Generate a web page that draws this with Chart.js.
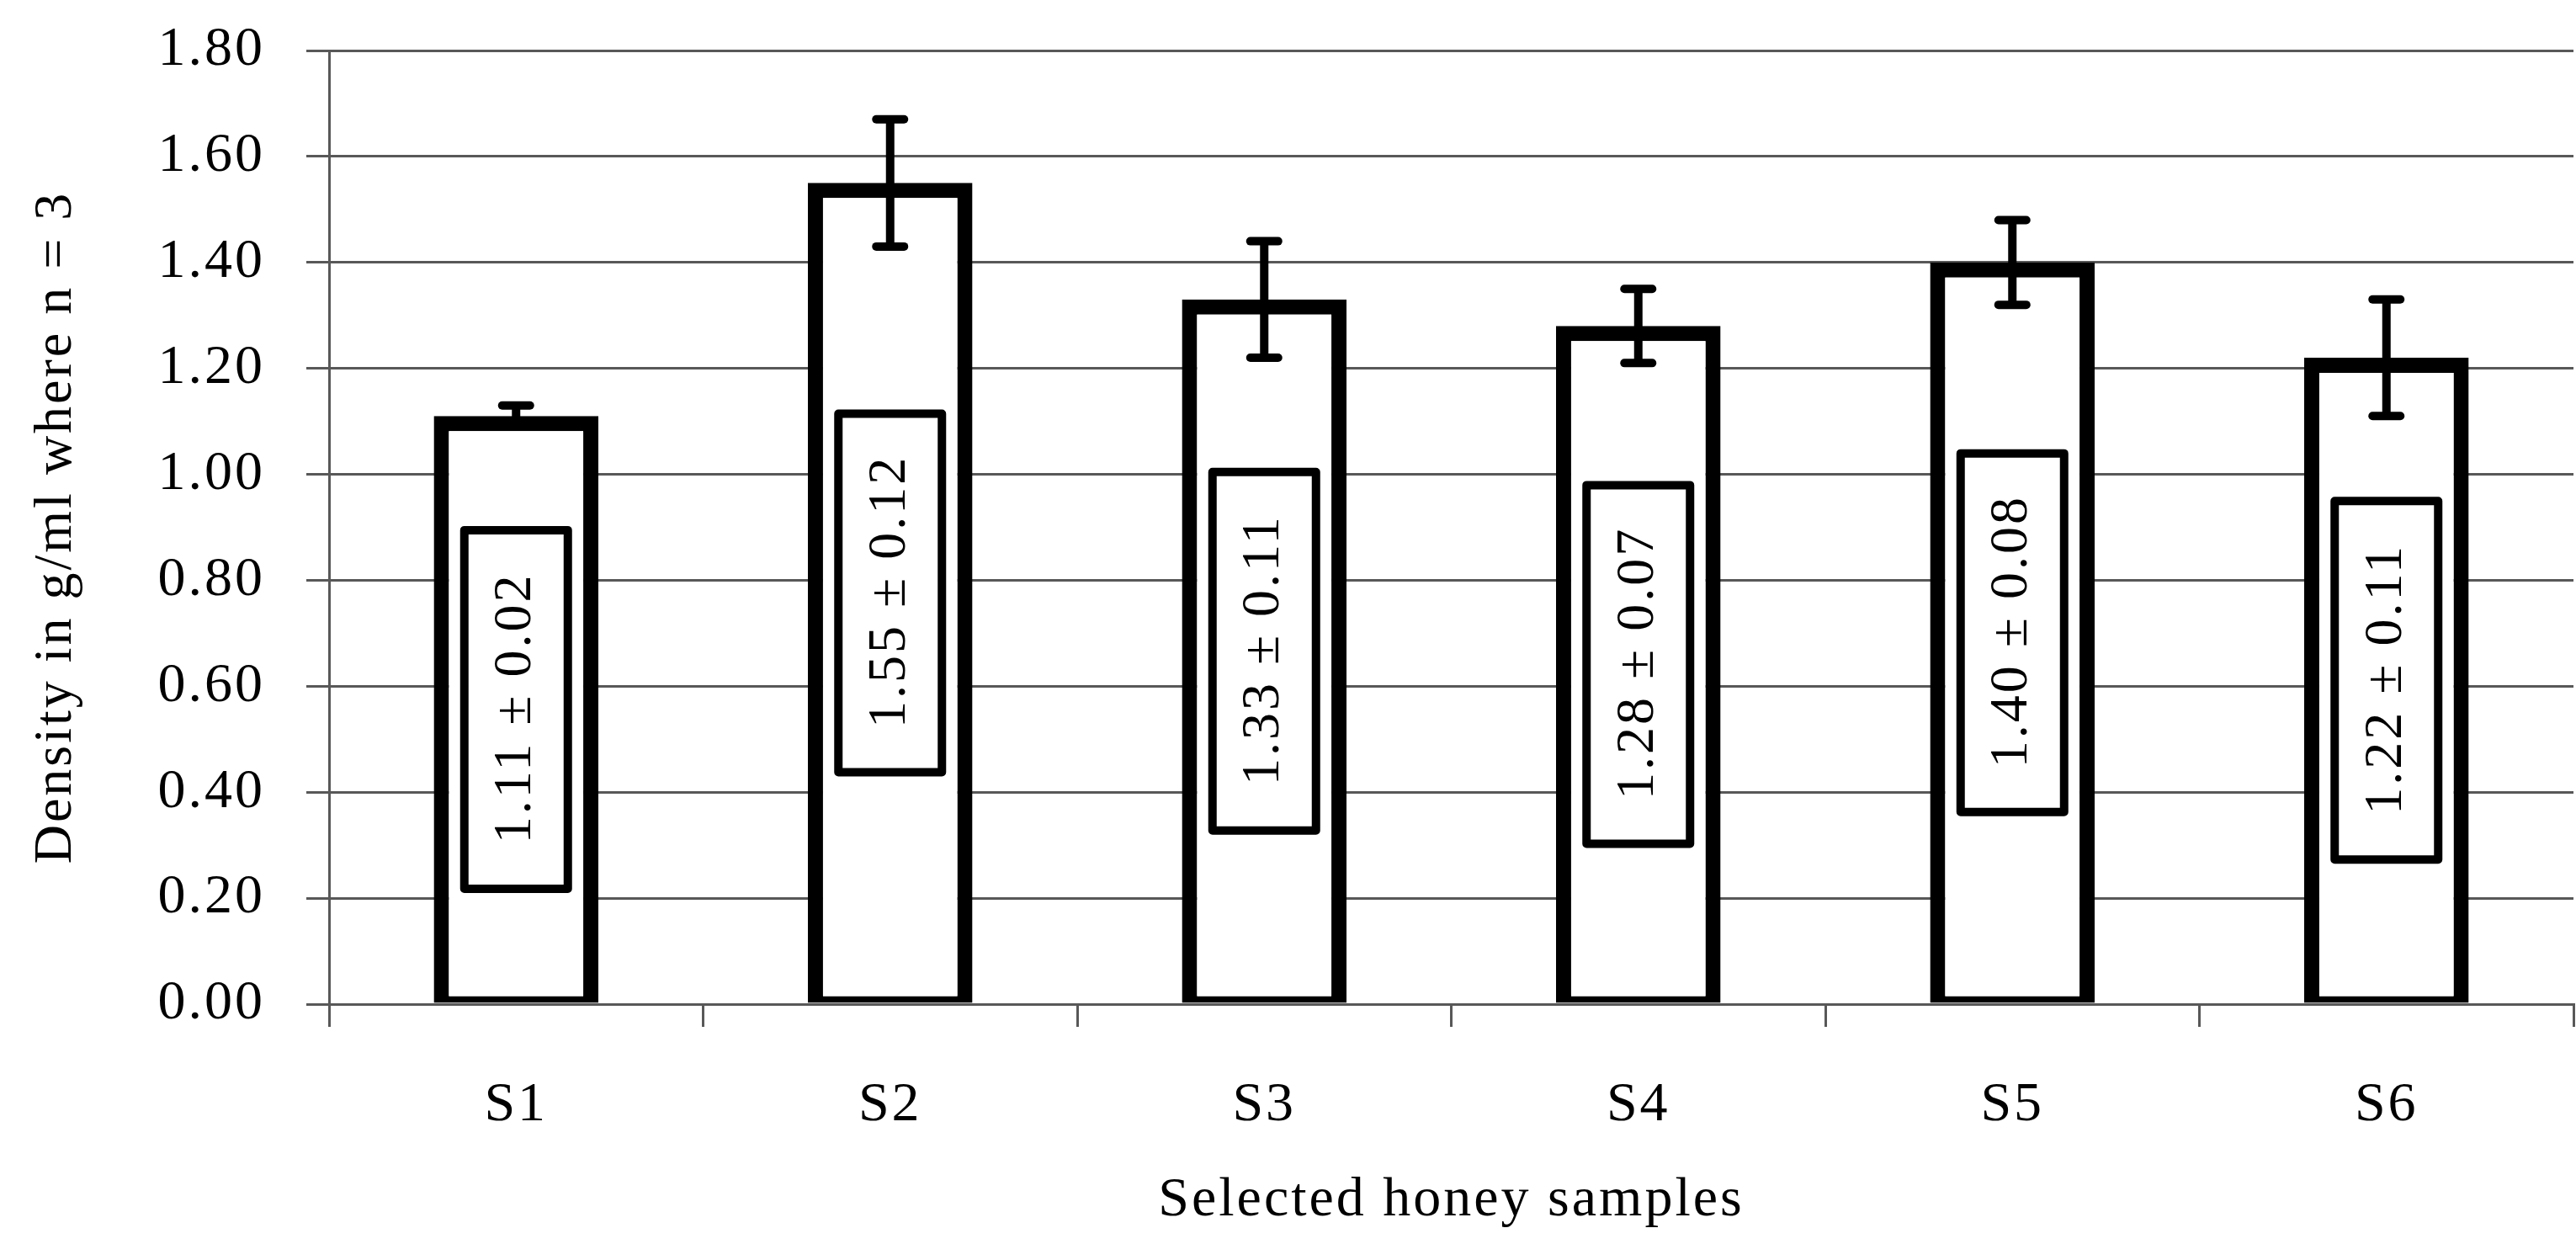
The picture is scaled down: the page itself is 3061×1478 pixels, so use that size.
<!DOCTYPE html>
<html>
<head>
<meta charset="utf-8">
<title>Density of selected honey samples</title>
<script src="https://cdn.jsdelivr.net/npm/chart.js@4.4.1/dist/chart.umd.min.js"></script>
<style>
  html, body { margin: 0; padding: 0; background: #fff; }
  #wrap { width: 3061px; height: 1478px; }
</style>
</head>
<body>
<div id="wrap"><canvas id="densityChart" width="3061" height="1478"></canvas></div>
<script>
// data
const samples = ['S1', 'S2', 'S3', 'S4', 'S5', 'S6'];
const densityMean = [1.11, 1.55, 1.33, 1.28, 1.40, 1.22];
const densitySd = [0.02, 0.12, 0.11, 0.07, 0.08, 0.11];
const yTickValues = [0.00, 0.20, 0.40, 0.60, 0.80, 1.00, 1.20, 1.40, 1.60, 1.80];

const serif = '"Liberation Serif", "Times New Roman", serif';
const gridGray = '#585858';

// the original text is set a little loose
const looseText = {
    id: 'looseText',
    beforeDraw(chart) {
        chart.ctx.letterSpacing = '3px';
    }
};

// error bars + the boxed "mean ± sd" labels inside each bar
const errorBarsAndLabels = {
    id: 'errorBarsAndLabels',
    afterDatasetsDraw(chart) {
        const ctx = chart.ctx;
        const yScale = chart.scales.y;
        const meta = chart.getDatasetMeta(0);

        ctx.save();
        meta.data.forEach((bar, i) => {
            const mean = densityMean[i];
            const sd = densitySd[i];
            const yHi = yScale.getPixelForValue(mean + sd);
            const yLo = yScale.getPixelForValue(mean - sd);

            ctx.strokeStyle = '#000';
            ctx.lineWidth = 10;
            ctx.lineCap = 'butt';
            ctx.beginPath();
            ctx.moveTo(bar.x, yHi);
            ctx.lineTo(bar.x, yLo);
            ctx.stroke();

            ctx.lineCap = 'round';
            [yHi, yLo].forEach(py => {
                ctx.beginPath();
                ctx.moveTo(bar.x - 16.5, py);
                ctx.lineTo(bar.x + 16.5, py);
                ctx.stroke();
            });

            // label box, centred half way up the bar
            const cy = (bar.y + bar.base) / 2;
            const boxW = 123;
            const boxH = 426;
            ctx.fillStyle = '#fff';
            ctx.fillRect(bar.x - boxW / 2, cy - boxH / 2, boxW, boxH);
            ctx.lineWidth = 10;
            ctx.lineJoin = 'round';
            ctx.strokeRect(bar.x - boxW / 2, cy - boxH / 2, boxW, boxH);

            ctx.save();
            ctx.translate(bar.x, cy);
            ctx.rotate(-Math.PI / 2);
            ctx.fillStyle = '#000';
            ctx.font = '64px ' + serif;
            ctx.letterSpacing = '3px';
            ctx.textAlign = 'center';
            ctx.textBaseline = 'middle';
            ctx.fillText(mean.toFixed(2) + ' \u00b1 ' + sd.toFixed(2), 1.5, 0);
            ctx.restore();
        });
        ctx.restore();
    }
};

const densityCtx = document.getElementById('densityChart').getContext('2d');
const densityChart = new Chart(densityCtx, {
    type: 'bar',
    data: {
        labels: samples,
        datasets: [{
            label: 'Density',
            data: densityMean,
            backgroundColor: '#fff',
            borderColor: '#000',
            borderWidth: { top: 18, left: 18, right: 18, bottom: 8 },
            borderSkipped: false,
            barPercentage: 0.44,
            categoryPercentage: 1.0
        }]
    },
    options: {
        responsive: false,
        animation: false,
        devicePixelRatio: 1,
        layout: {
            padding: { top: 60, right: 3, bottom: 0, left: 0 }
        },
        plugins: {
            legend: { display: false },
            tooltip: { enabled: false }
        },
        scales: {
            x: {
                grid: {
                    offset: true,
                    drawOnChartArea: false,
                    drawTicks: true,
                    tickLength: 27,
                    color: gridGray,
                    lineWidth: 3
                },
                border: { display: true, color: gridGray, width: 3 },
                ticks: {
                    color: '#000',
                    font: { family: serif, size: 66 },
                    padding: 54
                },
                title: {
                    display: true,
                    text: 'Selected honey samples',
                    color: '#000',
                    font: { family: serif, size: 66 },
                    padding: { top: 0, bottom: 12 }
                },
                afterFit(scale) {
                    scale.height = 285;
                }
            },
            y: {
                min: 0,
                max: 1.8,
                afterBuildTicks(scale) {
                    scale.ticks = yTickValues.map(v => ({ value: v }));
                },
                grid: {
                    color: gridGray,
                    lineWidth: 3,
                    tickLength: 27
                },
                border: { display: true, color: gridGray, width: 3 },
                ticks: {
                    color: '#000',
                    font: { family: serif, size: 66 },
                    padding: 49,
                    callback: v => Number(v).toFixed(2)
                },
                title: {
                    display: true,
                    text: 'Density in g/ml where n = 3',
                    color: '#000',
                    font: { family: serif, size: 64 },
                    padding: { top: 29, bottom: 0 }
                },
                afterFit(scale) {
                    scale.width = 391;
                    // don't let the label padding push the plot area down
                    scale.paddingTop = 0;
                    scale.paddingBottom = 0;
                }
            }
        }
    },
    plugins: [looseText, errorBarsAndLabels]
});
</script>
</body>
</html>
